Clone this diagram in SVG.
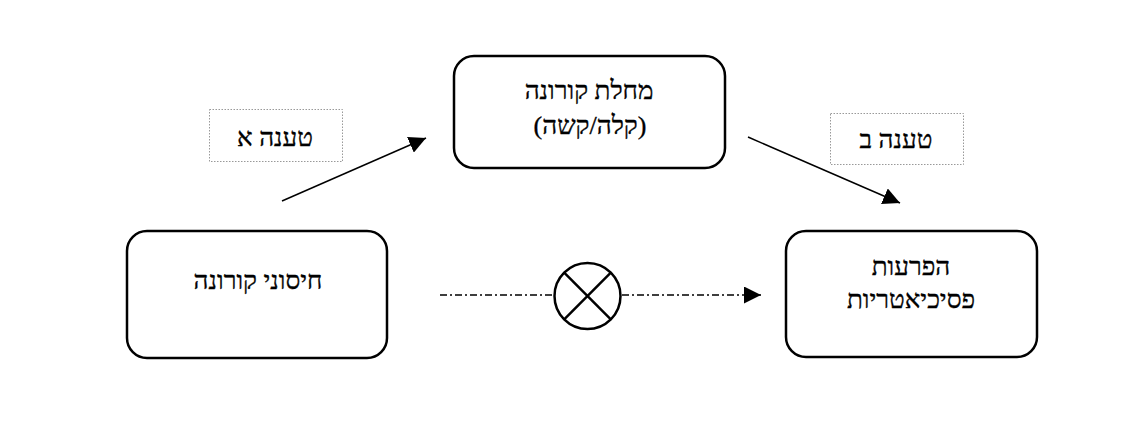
<svg xmlns="http://www.w3.org/2000/svg" width="1142" height="435" viewBox="0 0 1142 435">
<style>
.node{fill:#fff;stroke:#000;stroke-width:2.5}
.lbl{fill:#fff;stroke:#999;stroke-width:1;stroke-dasharray:1.5 1.5}
.t{font-family:"Liberation Serif","DejaVu Serif",serif;font-size:26px;fill:#000;stroke:#000;stroke-width:0.35;text-anchor:middle}
.edge{stroke:#000;stroke-width:1.5;fill:none}
.dash{stroke:#000;stroke-width:1.5;fill:none;stroke-dasharray:7 3 2 3}
</style>
<defs>
<marker id="ah2" viewBox="0 0 10 10" refX="10" refY="5" markerWidth="17" markerHeight="17" markerUnits="userSpaceOnUse" orient="auto">
<path d="M0,0 L10,5 L0,10 z" fill="#000"/>
</marker>
</defs>
<rect width="1142" height="435" fill="#fff"/>
<g id="connectors">
<line class="edge" x1="282" y1="201" x2="426" y2="138" marker-end="url(#ah2)"/>
<line class="edge" x1="748" y1="137" x2="900" y2="203" marker-end="url(#ah2)"/>
<line class="dash" x1="440" y1="295" x2="553" y2="295"/>
<line class="dash" x1="622" y1="295" x2="761" y2="295" marker-end="url(#ah2)"/>
</g>
<g id="node-vaccine">
<rect class="node" x="127" y="231" width="260" height="127" rx="20"/>
<text class="t" x="258" y="289">חיסוני קורונה</text>
</g>
<g id="node-disease">
<rect class="node" x="454" y="56" width="271" height="112" rx="20"/>
<text class="t" x="589" y="99">מחלת קורונה</text>
<text class="t" x="590" y="134">(קלה/קשה)</text>
</g>
<g id="node-psych">
<rect class="node" x="786" y="231" width="251" height="126" rx="20"/>
<text class="t" x="911" y="275">הפרעות</text>
<text class="t" x="911" y="308">פסיכיאטריות</text>
</g>
<g id="node-claimA">
<rect class="lbl" x="209.5" y="109.5" width="133" height="52"/>
<text class="t" x="275" y="146">טענה א</text>
</g>
<g id="node-claimB">
<rect class="lbl" x="830.5" y="113.5" width="133" height="51"/>
<text class="t" x="896" y="148">טענה ב</text>
</g>
<g id="node-block">
<circle cx="587.5" cy="296" r="33" fill="#fff" stroke="#000" stroke-width="2.5"/>
<line x1="564.2" y1="272.7" x2="610.8" y2="319.3" stroke="#000" stroke-width="2.5"/>
<line x1="610.8" y1="272.7" x2="564.2" y2="319.3" stroke="#000" stroke-width="2.5"/>
</g>
</svg>
